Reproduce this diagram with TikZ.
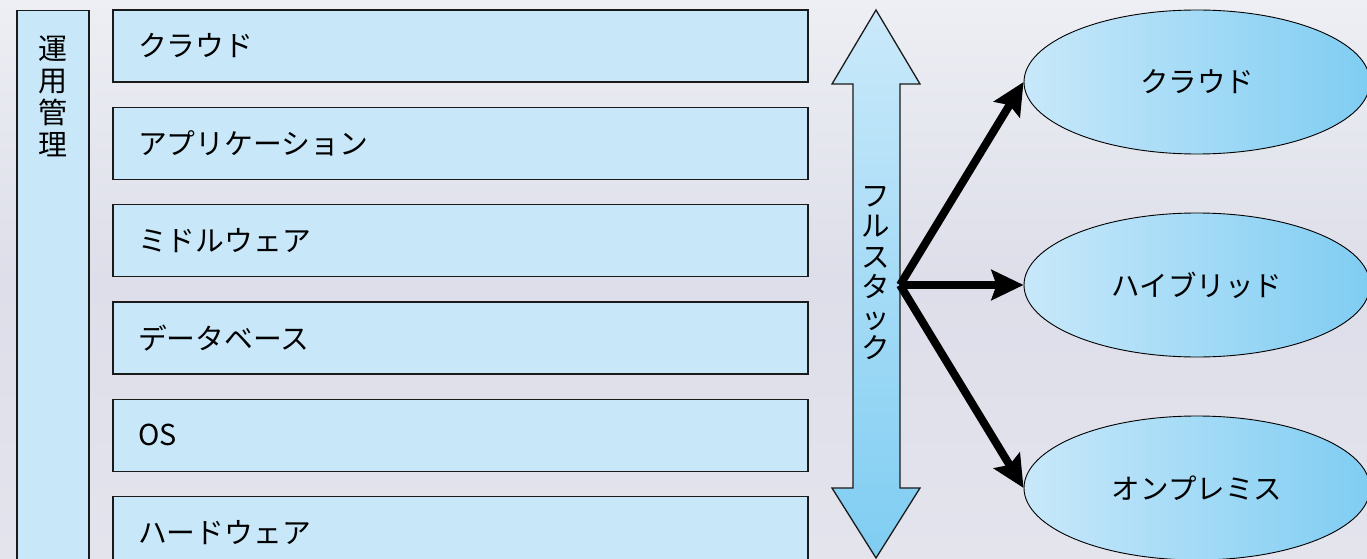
\documentclass[tikz,border=0pt]{standalone}
\usepackage{fontspec}
\newfontfamily\jpfont{Noto Sans CJK JP}
\usetikzlibrary{positioning, shapes, arrows.meta}
\definecolor{stackFill}{HTML}{C8E8FA}
\definecolor{stackDeep}{HTML}{7FCDF2}
\definecolor{stackLine}{HTML}{1A1A1A}
\definecolor{bgTop}{HTML}{EDEFF4}
\definecolor{bgMid}{HTML}{DDDEE9}
\definecolor{bgBottom}{HTML}{E3E4EC}

\begin{document}
\begin{tikzpicture}[
  x=1pt, y=1pt,
  layer/.style={draw=stackLine, line width=1.3pt, fill=stackFill, minimum width=695pt, minimum height=72pt,
    text width=645pt, inner xsep=25pt, align=left, font=\jpfont\fontsize{28.8}{30}\selectfont},
  vtext/.style={align=center, inner sep=0pt, font=\jpfont\fontsize{29}{32}\selectfont},
  target/.style={ellipse, draw=black, line width=0.9pt, left color=stackFill, right color=stackDeep,
    minimum width=346pt, minimum height=144pt, font=\jpfont\fontsize{28.5}{30}\selectfont},
  arr/.style={-{Stealth[length=32pt, width=30pt, inset=5pt]}, line width=8pt}
]
\clip (0,0) rectangle (1367,-559);
\shade[top color=bgTop, bottom color=bgBottom, middle color=bgMid] (0,0) rectangle (1367,-559);

% operations column
\node[draw=stackLine, line width=1.3pt, fill=stackFill, minimum width=72pt, minimum height=570pt,
  anchor=north, inner sep=0pt] (ops) at (53,-10) {};
\node[vtext, below=26pt of ops.north] (opslbl) {運\\用\\管\\理};

% stack layers
\node[layer] (cloud) at (460.5,-46) {クラウド};
\node[layer, below=24pt of cloud] (app) {アプリケーション};
\node[layer, below=24pt of app] (mid) {ミドルウェア};
\node[layer, below=24pt of mid] (db) {データベース};
\node[layer, below=24pt of db] (os) {OS};
\node[layer, below=24pt of os] (hw) {ハードウェア};

% full stack double arrow
\shade[draw=stackLine, line width=1.3pt, top color=stackFill!95!white, bottom color=stackDeep]
  (876,-10) -- (920,-84) -- (900,-84) -- (900,-488) -- (920,-488) -- (876,-558)
  -- (832,-488) -- (853,-488) -- (853,-84) -- (832,-84) -- cycle;
\node[vtext, font=\jpfont\fontsize{28.5}{30.5}\selectfont, anchor=north] (fslbl) at (876,-186) {フ\\ル\\ス\\タ\\ッ\\ク};
\coordinate (hub) at (900,-285);

% deployment targets
\node[target] (tcloud) at (1197,-82) {クラウド};
\node[target] (thybrid) at (1197,-285) {ハイブリッド};
\node[target] (tonprem) at (1197,-488) {オンプレミス};

\draw[arr] (hub) -- (tcloud.west);
\draw[arr] (hub) -- (thybrid.west);
\draw[arr] (hub) -- (tonprem.west);
\end{tikzpicture}
\end{document}
